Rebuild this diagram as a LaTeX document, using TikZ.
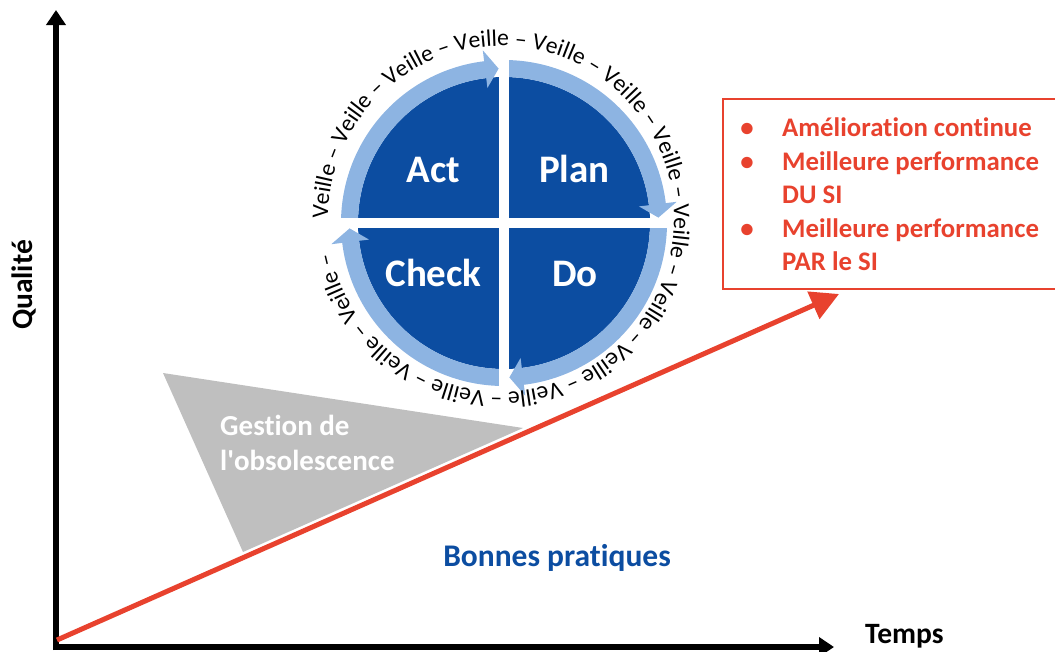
\documentclass[tikz,border=0pt]{standalone}
\usepackage{fontspec}
\setmainfont{Carlito}[Ligatures={NoCommon,NoRare,NoContextual}]
\usetikzlibrary{decorations.text, arrows.meta}
\definecolor{dkblue}{RGB}{12,77,161}
\definecolor{ltblue}{RGB}{141,180,226}
\definecolor{redc}{RGB}{232,66,46}
\definecolor{greyc}{RGB}{191,191,191}
\newcommand\veillefont{\fontsize{23.6}{24}\selectfont}
\tikzset{
  axis/.style={line width=5.5pt, -{Triangle[length=15pt,width=19pt]}},
  trend/.style={redc, line width=5pt, -{Triangle[length=28pt,width=29pt]}},
  quad/.style={text=white, font=\fontsize{39}{42}\selectfont\bfseries, anchor=base, inner sep=0pt},
  axlabel/.style={font=\fontsize{29.5}{32}\selectfont\bfseries, inner sep=0pt},
  boxtext/.style={text=redc, font=\fontsize{26.8}{30}\selectfont\bfseries, anchor=base west, inner sep=0pt},
  bullet/.style={text=redc, font=\fontsize{26.8}{30}\selectfont\bfseries, anchor=base, inner sep=0pt},
  gest/.style={text=white, font=\fontsize{29}{34}\selectfont\bfseries, anchor=base west, inner sep=0pt}
}
\begin{document}
\begin{tikzpicture}[x=1pt,y=1pt]
\useasboundingbox (0,0) rectangle (1055,-651);
% axes
\coordinate (O) at (53,-647);
\coordinate (Ob) at (56,-650);
\coordinate (Ytop) at (56,-10);
\coordinate (Xend) at (834,-647);
\draw[axis] (Ob) -- (Ytop);
\draw[axis] (O) -- (Xend);
\node[axlabel, anchor=base west] (temps) at (865,-643) {Temps};
\node[axlabel, rotate=90] (qual) at (24,-285) {Qualité};
% obsolescence triangle
\fill[greyc] (163,-373) -- (523,-428) -- (243,-552) -- cycle;
\node[gest] (g1) at (220,-435) {Gestion de};
\node[gest] (g2) at (220,-470) {l\textquotesingle obsolescence};
% trend
\coordinate (T0) at (57,-640);
\coordinate (T1) at (839,-294);
\draw[trend] (T0) -- (T1);
% red box
\draw[redc, line width=1.2pt] (723,-99) rectangle (1062,-289);
\node[bullet] (b1) at (747,-136) {•};
\node[bullet] (b2) at (747,-170) {•};
\node[bullet] (b3) at (747,-237) {•};
\node[boxtext] (l1) at (782,-136) {Amélioration continue};
\node[boxtext] (l2) at (782,-170) {Meilleure performance};
\node[boxtext] (l3) at (782,-203) {DU SI};
\node[boxtext] (l4) at (782,-237) {Meilleure performance};
\node[boxtext] (l5) at (782,-270) {PAR le SI};
% PDCA wheel
\begin{scope}[shift={(504,-223)}]
  \fill[dkblue] (0,0) circle (146pt);
  \foreach \s [evaluate=\s as \b using \s-83, evaluate=\s as \t using \s-88] in {180,90,0,-90}
    \fill[ltblue] (\s:146pt) arc[start angle=\s, end angle=\b, radius=146pt]
      -- (\b:136pt) -- (\t:154.5pt) -- (\b:174pt) -- (\b:163pt)
      arc[start angle=\b, end angle=\s, radius=163pt] -- cycle;
  \fill[white] (-5,-166) rectangle (5,166);
  \fill[white] (-166,-5) rectangle (166,5);
\end{scope}
\node[quad] (act) at (433.5,-182) {Act};
\node[quad] (plan) at (574.5,-182) {Plan};
\node[quad] (check) at (433.5,-286) {Check};
\node[quad] (do) at (575,-286) {Do};
% Veille ring text
\path[decorate, decoration={text along path, text align=left,
  text={|\veillefont|Veille – Veille – Veille – Veille – Veille – Veille – Veille – Veille – Veille – Veille – Veille – Veille – Veille – Veille –}}]
  (501,-219) ++(180:173pt) arc[start angle=180, end angle=-180, radius=173pt];
% bottom label
\node[font=\fontsize{31.5}{34}\selectfont\bfseries, text=dkblue, anchor=base, inner sep=0pt] (bp) at (557,-566) {Bonnes pratiques};
\end{tikzpicture}
\end{document}
